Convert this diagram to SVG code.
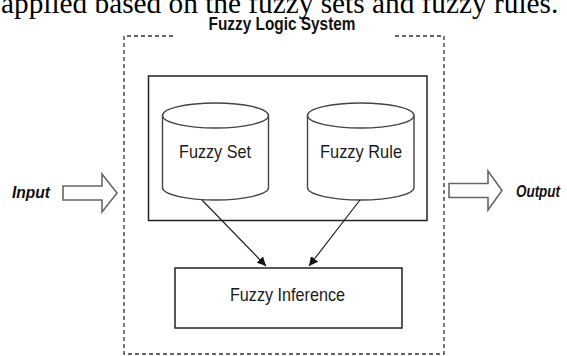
<svg xmlns="http://www.w3.org/2000/svg" width="567" height="356" viewBox="0 0 567 356">
  <style>
    .caption { font-family: "Liberation Serif", "Times New Roman", serif; font-size: 29.3px; fill: #000; }
    .title { font-family: "Liberation Sans", Arial, sans-serif; font-weight: bold; font-size: 18px; fill: #111; }
    .io { font-family: "Liberation Sans", Arial, sans-serif; font-weight: bold; font-style: italic; font-size: 16px; fill: #111; }
    .label { font-family: "Liberation Sans", Arial, sans-serif; font-size: 19px; fill: #1a1a1a; }
    .boundary { fill: none; stroke: #333; stroke-width: 1.3; stroke-dasharray: 4 3; }
    .solid { fill: #fff; stroke: #222; stroke-width: 1.5; }
    .cyl { fill: #fff; stroke: #444; stroke-width: 1.4; }
    .block { fill: #fff; stroke: #666; stroke-width: 1.6; stroke-linejoin: miter; }
    .edge { fill: none; stroke: #222; stroke-width: 1.2; }
  </style>
  <defs>
    <marker id="arrow" viewBox="0 0 10 10" refX="10" refY="5" markerWidth="9" markerHeight="9" markerUnits="userSpaceOnUse" orient="auto">
      <path d="M0,0 L10,5 L0,10 z" fill="#111"/>
    </marker>
  </defs>

  <!-- running text line above the figure, clipped by the top edge -->
  <text class="caption" x="1" y="13">applied based on the fuzzy sets and fuzzy rules.</text>

  <!-- system boundary (dashed, open at the title) -->
  <g id="fuzzy-logic-system">
    <path class="boundary" d="M173,36 H124 V354 H444 V36 H393"/>
    <text class="title" x="282" y="30" text-anchor="middle" textLength="147" lengthAdjust="spacingAndGlyphs">Fuzzy Logic System</text>
  </g>

  <!-- input block arrow -->
  <g id="input">
    <text class="io" x="12" y="198" textLength="38" lengthAdjust="spacingAndGlyphs">Input</text>
    <path class="block" d="M63,186 H102 V174 L117,193 L102,212 V200 H63 Z"/>
  </g>

  <!-- output block arrow -->
  <g id="output">
    <path class="block" d="M449,183.5 H488 V171 L502,190.5 L488,210 V197.5 H449 Z"/>
    <text class="io" x="516" y="197" textLength="44" lengthAdjust="spacingAndGlyphs">Output</text>
  </g>

  <!-- knowledge base container -->
  <g id="knowledge-base">
    <rect class="solid" x="148.5" y="76" width="278.5" height="144.5"/>
  </g>

  <!-- fuzzy set store -->
  <g id="fuzzy-set">
    <path class="cyl" d="M162.5,115.5 V187.5 A53,12.5 0 0 0 268.5,187.5 V115.5"/>
    <ellipse class="cyl" cx="215.5" cy="115.5" rx="53" ry="12.5"/>
    <text class="label" x="215" y="158" text-anchor="middle" textLength="72" lengthAdjust="spacingAndGlyphs">Fuzzy Set</text>
  </g>

  <!-- fuzzy rule store -->
  <g id="fuzzy-rule">
    <path class="cyl" d="M307.5,115.5 V187.5 A53.25,12.5 0 0 0 414,187.5 V115.5"/>
    <ellipse class="cyl" cx="360.75" cy="115.5" rx="53.25" ry="12.5"/>
    <text class="label" x="361" y="158" text-anchor="middle" textLength="82" lengthAdjust="spacingAndGlyphs">Fuzzy Rule</text>
  </g>

  <!-- inference engine -->
  <g id="fuzzy-inference">
    <rect class="solid" x="175" y="268" width="227" height="60"/>
    <text class="label" x="287.5" y="301" text-anchor="middle" textLength="115" lengthAdjust="spacingAndGlyphs">Fuzzy Inference</text>
  </g>

  <!-- connectors -->
  <g id="connectors">
    <line class="edge" x1="202" y1="200" x2="266" y2="266" marker-end="url(#arrow)"/>
    <line class="edge" x1="360" y1="200" x2="309" y2="266" marker-end="url(#arrow)"/>
  </g>
</svg>
